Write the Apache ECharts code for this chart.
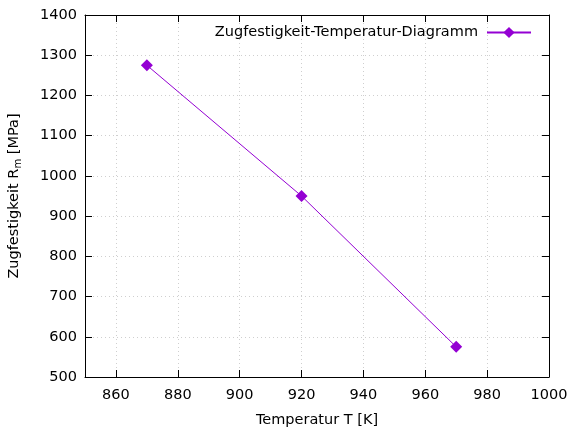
<!DOCTYPE html>
<html><head><meta charset="utf-8">
<script src="https://cdn.jsdelivr.net/npm/echarts@6/dist/echarts.min.js"></script>
<style>html,body{margin:0;padding:0;background:#fff}#c{width:573px;height:430px}</style>
</head><body><div id="c"></div>
<script>
const temperatures = [870, 920, 970];
const strengths = [1275, 950, 575];
const xTicks = [860, 880, 900, 920, 940, 960, 980, 1000];
const yTicks = [500, 600, 700, 800, 900, 1000, 1100, 1200, 1300, 1400];
const seriesName = 'Zugfestigkeit-Temperatur-Diagramm';
const xTitle = 'Temperatur T [K]';
const FONT = 'DejaVu Sans';
const FS = 14.5;
const COLOR = '#9400D3';

const chart = echarts.init(document.getElementById('c'), null, {renderer: 'canvas'});
const tickStyle = (vals) => ({show: true, inside: true, length: 7, customValues: vals, lineStyle: {color: '#000', width: 1}});
const axisLine = {show: true, onZero: false, lineStyle: {color: '#000', width: 1}};
const gridLine = {show: true, lineStyle: {color: '#cfcfcf', type: [1, 3], width: 1}};
chart.setOption({
  animation: false,
  backgroundColor: '#fff',
  textStyle: {fontFamily: FONT},
  grid: {left: 85, right: 24, top: 15, bottom: 53, outerBoundsMode: 'none', containLabel: false},
  legend: {
    data: [seriesName], right: 36, top: 20, align: 'right',
    itemWidth: 44, itemHeight: 14, itemGap: 8,
    textStyle: {fontFamily: FONT, fontSize: FS, color: '#000', padding: [0, 4, 0, 0]}
  },
  xAxis: [{
    type: 'value', min: 850, max: 1000,
    position: 'bottom',
    name: xTitle, nameLocation: 'middle', nameGap: 36,
    nameTextStyle: {fontFamily: FONT, fontSize: FS, color: '#000'},
    axisLine: axisLine, axisTick: tickStyle(xTicks), splitLine: gridLine,
    axisLabel: {color: '#000', fontFamily: FONT, fontSize: FS, margin: 11, customValues: xTicks, formatter: v => String(v)}
  }, {
    type: 'value', min: 850, max: 1000, position: 'top',
    axisLine: axisLine, axisTick: tickStyle(xTicks), splitLine: {show: false}, axisLabel: {show: false}
  }],
  yAxis: [{
    type: 'value', min: 500, max: 1400,
    position: 'left',
    name: '{n|Zugfestigkeit R}{s|m}{n| [MPa]}', nameLocation: 'middle', nameGap: 62,
    nameTextStyle: {
      fontFamily: FONT, fontSize: FS, color: '#000',
      rich: {
        n: {fontFamily: FONT, fontSize: FS, color: '#000', lineHeight: 17},
        s: {fontFamily: FONT, fontSize: 10, color: '#000', padding: [7, 0, 0, 0], lineHeight: 17}
      }
    },
    axisLine: axisLine, axisTick: tickStyle(yTicks), splitLine: gridLine,
    axisLabel: {color: '#000', fontFamily: FONT, fontSize: FS, margin: 8, customValues: yTicks, formatter: v => String(v)}
  }, {
    type: 'value', min: 500, max: 1400, position: 'right',
    axisLine: axisLine, axisTick: tickStyle(yTicks), splitLine: {show: false}, axisLabel: {show: false}
  }],
  series: [{
    name: seriesName, type: 'line',
    data: temperatures.map((t, i) => [t, strengths[i]]),
    symbol: 'diamond', symbolSize: 12,
    itemStyle: {color: COLOR},
    lineStyle: {color: COLOR, width: 1}
  }]
});
</script></body></html>
